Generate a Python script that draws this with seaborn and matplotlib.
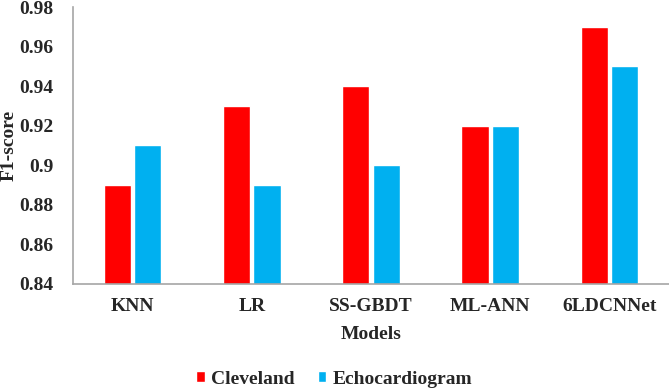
import pandas as pd
import matplotlib.pyplot as plt
import seaborn as sns

# data
models = ["KNN", "LR", "SS-GBDT", "ML-ANN", "6LDCNNet"]
cleveland = [0.89, 0.93, 0.94, 0.92, 0.97]
echocardiogram = [0.91, 0.89, 0.90, 0.92, 0.95]
series = ["Cleveland", "Echocardiogram"]
colors = ["#FF0000", "#00B0F0"]

df = pd.DataFrame({
    "Models": models * 2,
    "F1-score": cleveland + echocardiogram,
    "Dataset": [series[0]] * len(models) + [series[1]] * len(models),
})

sns.set_style("white")
serif = ['Liberation Serif', 'DejaVu Serif']
plt.rcParams['font.family'] = serif
plt.rcParams['font.weight'] = 'bold'

fs = 14
fig = plt.figure(figsize=(6.69, 3.89), dpi=100)
ax = fig.add_axes([73 / 669, 1 - 284 / 389, 596 / 669, 277 / 389])

sns.barplot(data=df, x="Models", y="F1-score", hue="Dataset",
            palette=colors, saturation=1, width=0.51, gap=0.11, ax=ax, legend=True)

ax.set_ylim(0.84, 0.98)
ax.set_yticks([0.84, 0.86, 0.88, 0.90, 0.92, 0.94, 0.96, 0.98])
ax.set_yticklabels(["0.84", "0.86", "0.88", "0.9", "0.92", "0.94", "0.96", "0.98"])
ax.set_xlim(-0.5, 4.5)
ax.tick_params(axis='y', length=0, labelsize=fs, pad=14)
ax.tick_params(axis='x', length=0, labelsize=fs, pad=10)
for lab in ax.get_xticklabels() + ax.get_yticklabels():
    lab.set_fontweight('bold')
    lab.set_family(serif)

ax.set_xlabel("Models", fontsize=fs, fontweight='bold', family=serif, labelpad=8)
ax.set_ylabel("F1-score", fontsize=fs, fontweight='bold', family=serif)
ax.yaxis.set_label_coords(18 / 669, 1 - 145 / 389, transform=fig.transFigure)

for side in ["top", "right"]:
    ax.spines[side].set_visible(False)
for side in ["left", "bottom"]:
    ax.spines[side].set_color("#A6A6A6")
    ax.spines[side].set_linewidth(1.2)

ax.legend(loc="center", bbox_to_anchor=(334 / 669, 1 - 379 / 389), bbox_transform=fig.transFigure,
          ncol=2, frameon=False, prop={'family': serif, 'size': fs, 'weight': 'bold'},
          handlelength=0.45, handleheight=0.45, handletextpad=0.3, columnspacing=1.2,
          borderpad=0, borderaxespad=0)

fig.savefig("out.png", dpi=100)
